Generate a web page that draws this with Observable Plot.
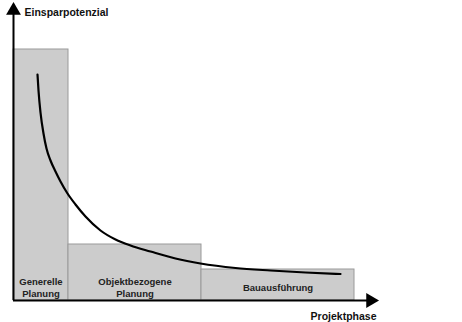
<!DOCTYPE html>
<html><head><meta charset="utf-8">
<script src="https://cdn.jsdelivr.net/npm/d3@7"></script>
<script src="https://cdn.jsdelivr.net/npm/@observablehq/plot@0.6"></script>
<style>body{margin:0;background:#fff}</style>
</head><body><div id="chart"></div>
<script>
const phases = ["Generelle\nPlanung", "Objektbezogene\nPlanung", "Bauausführung"];
const phaseStart = [0, 55, 188];
const phaseEnd = [55, 188, 341];
const phaseHeight = [251, 56, 31];
const curveX = [24, 25, 27, 30, 33, 37, 42, 47, 54, 62, 72, 87, 102, 117, 137, 162, 187, 222, 257, 292, 327];
const curveY = [226, 210, 188, 167, 152, 140, 129, 119, 107, 96, 84, 70, 61, 55, 49, 42, 37, 32.5, 30, 28, 26.5];
const yLabel = "Einsparpotenzial";
const xLabel = "Projektphase";

const bars = phases.map((p, i) => ({phase: p, x1: phaseStart[i], x2: phaseEnd[i], y: phaseHeight[i]}));
const curve = curveX.map((x, i) => ({x, y: curveY[i]}));
const font = "Liberation Sans, Arial, sans-serif";

const chart = Plot.plot({
  width: 462, height: 322,
  marginLeft: 13, marginRight: 87, marginTop: 5, marginBottom: 22,
  x: {domain: [0, 362], axis: null},
  y: {domain: [0, 295], axis: null},
  style: {fontFamily: font, background: "#fff", overflow: "visible"},
  marks: [
    Plot.rectY(bars, {x1: "x1", x2: "x2", y: "y", fill: "#cccccc", stroke: "#9a9a9a", strokeWidth: 1}),
    Plot.text(bars, {x: d => (d.x1 + d.x2) / 2, y: 0, text: "phase", dy: -13, lineAnchor: "middle", fontWeight: "bold", fontSize: 9.5, fill: "#222", lineHeight: 1.22}),
    Plot.line(curve, {x: "x", y: "y", curve: "monotone-x", stroke: "#000", strokeWidth: 2.2}),
    Plot.ruleX([0], {y1: 0, y2: 288, stroke: "#000", strokeWidth: 2}),
    Plot.ruleY([0], {x1: 0, x2: 356, stroke: "#000", strokeWidth: 2}),
    Plot.dot([{x: 0, y: 290}], {x: "x", y: "y", symbol: "triangle", r: 5.5, fill: "#000", stroke: null}),
    Plot.dot([{x: 357, y: 0}], {x: "x", y: "y", symbol: "triangle", r: 5.5, fill: "#000", stroke: null, rotate: 90}),
    Plot.text([yLabel], {x: 0, y: 295, dx: 11, dy: 7, text: d => d, textAnchor: "start", fontWeight: "bold", fontSize: 10.5, fill: "#111"}),
    Plot.text([xLabel], {x: 362, y: 0, dx: 1, dy: 16, text: d => d, textAnchor: "end", fontWeight: "bold", fontSize: 10.5, fill: "#111"})
  ]
});
document.getElementById("chart").appendChild(chart);
</script>
</body></html>
